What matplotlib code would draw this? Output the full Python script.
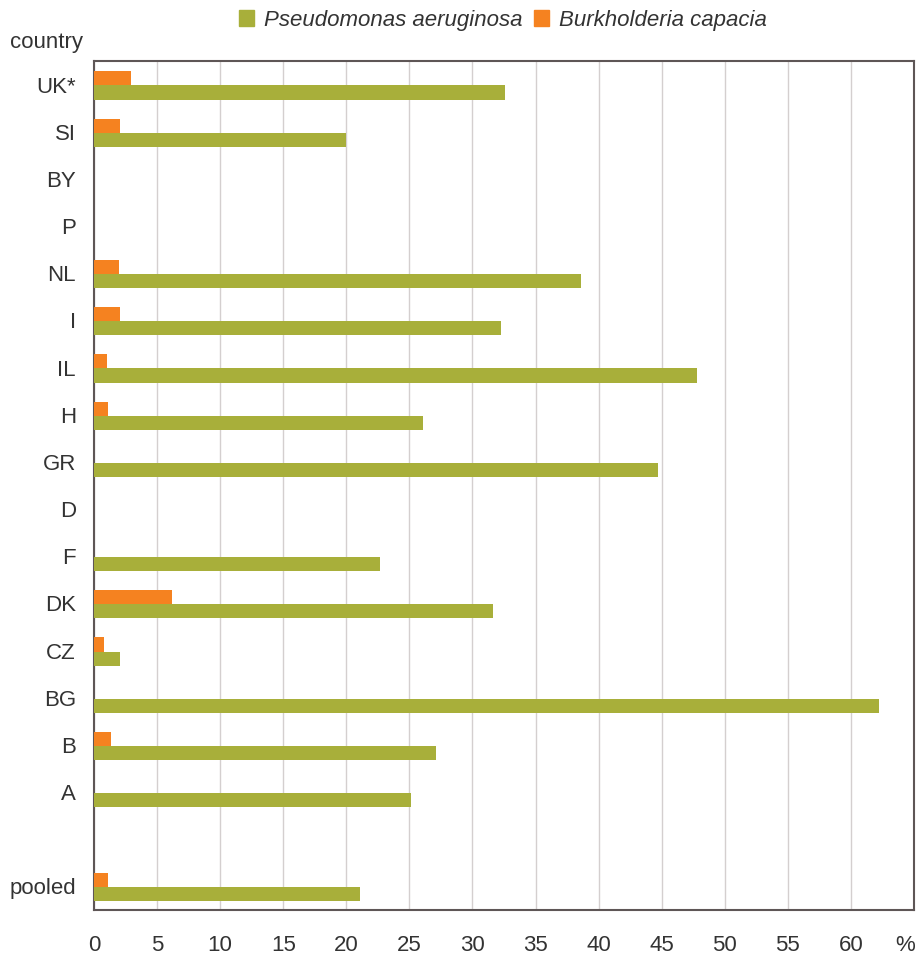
import matplotlib.pyplot as plt
from matplotlib.patches import Patch
from matplotlib import font_manager

names = {f.name for f in font_manager.fontManager.ttflist}
fam = "Liberation Sans Narrow" if "Liberation Sans Narrow" in names else "Liberation Sans"
plt.rcParams["font.family"] = [fam, "DejaVu Sans"]

countries = ["UK*", "SI", "BY", "P", "NL", "I", "IL", "H", "GR", "D", "F",
             "DK", "CZ", "BG", "B", "A", "", "pooled"]
pseudomonas = [32.6, 20.0, 0, 0, 38.6, 32.3, 47.8, 26.1, 44.7, 0, 22.7,
               31.6, 2.1, 62.2, 27.1, 25.1, 0, 21.1]
burkholderia = [2.9, 2.1, 0, 0, 2.0, 2.1, 1.0, 1.1, 0, 0, 0,
                6.2, 0.8, 0, 1.35, 0, 0, 1.1]

green = "#a8af3a"
orange = "#f58220"
txt = "#333333"

fig = plt.figure(figsize=(9.18, 9.6), dpi=100)
ax = fig.add_axes([0.1024, 0.0521, 0.8932, 0.8844])

pos = list(range(len(countries)))
h = 0.3
ax.barh([p + 0.17 for p in pos], pseudomonas, height=h, color=green, zorder=3)
ax.barh([p - 0.13 for p in pos], burkholderia, height=h, color=orange, zorder=3)

ax.set_xlim(0, 65)
ax.set_ylim(len(countries) - 0.5, -0.5)
ax.set_xticks(range(0, 65, 5))
ax.set_yticks(pos)
ax.set_yticklabels(countries)
ax.tick_params(axis="both", length=0, labelsize=16, colors=txt)
ax.tick_params(axis="x", pad=18)
ax.tick_params(axis="y", pad=13)
ax.xaxis.grid(True, color="#d4cfcf", linewidth=1, zorder=0)
for s in ax.spines.values():
    s.set_color("#5e5656")
    s.set_linewidth(1.5)

fig.text(0.011, 0.956, "country", fontsize=16, color=txt, va="center", ha="left")
fig.text(0.986, 0.0156, "%", fontsize=16, color=txt, va="center", ha="center")

handles = [Patch(color=green, label="Pseudomonas aeruginosa"),
           Patch(color=orange, label="Burkholderia capacia")]
leg = fig.legend(handles=handles, loc="center", bbox_to_anchor=(0.548, 0.979), ncol=2,
                 frameon=False, handlelength=0.7, handleheight=0.7, handletextpad=0.45,
                 columnspacing=0.5, prop={"size": 16, "style": "italic"})
for t in leg.get_texts():
    t.set_color(txt)

fig.savefig("out.png", dpi=100)
